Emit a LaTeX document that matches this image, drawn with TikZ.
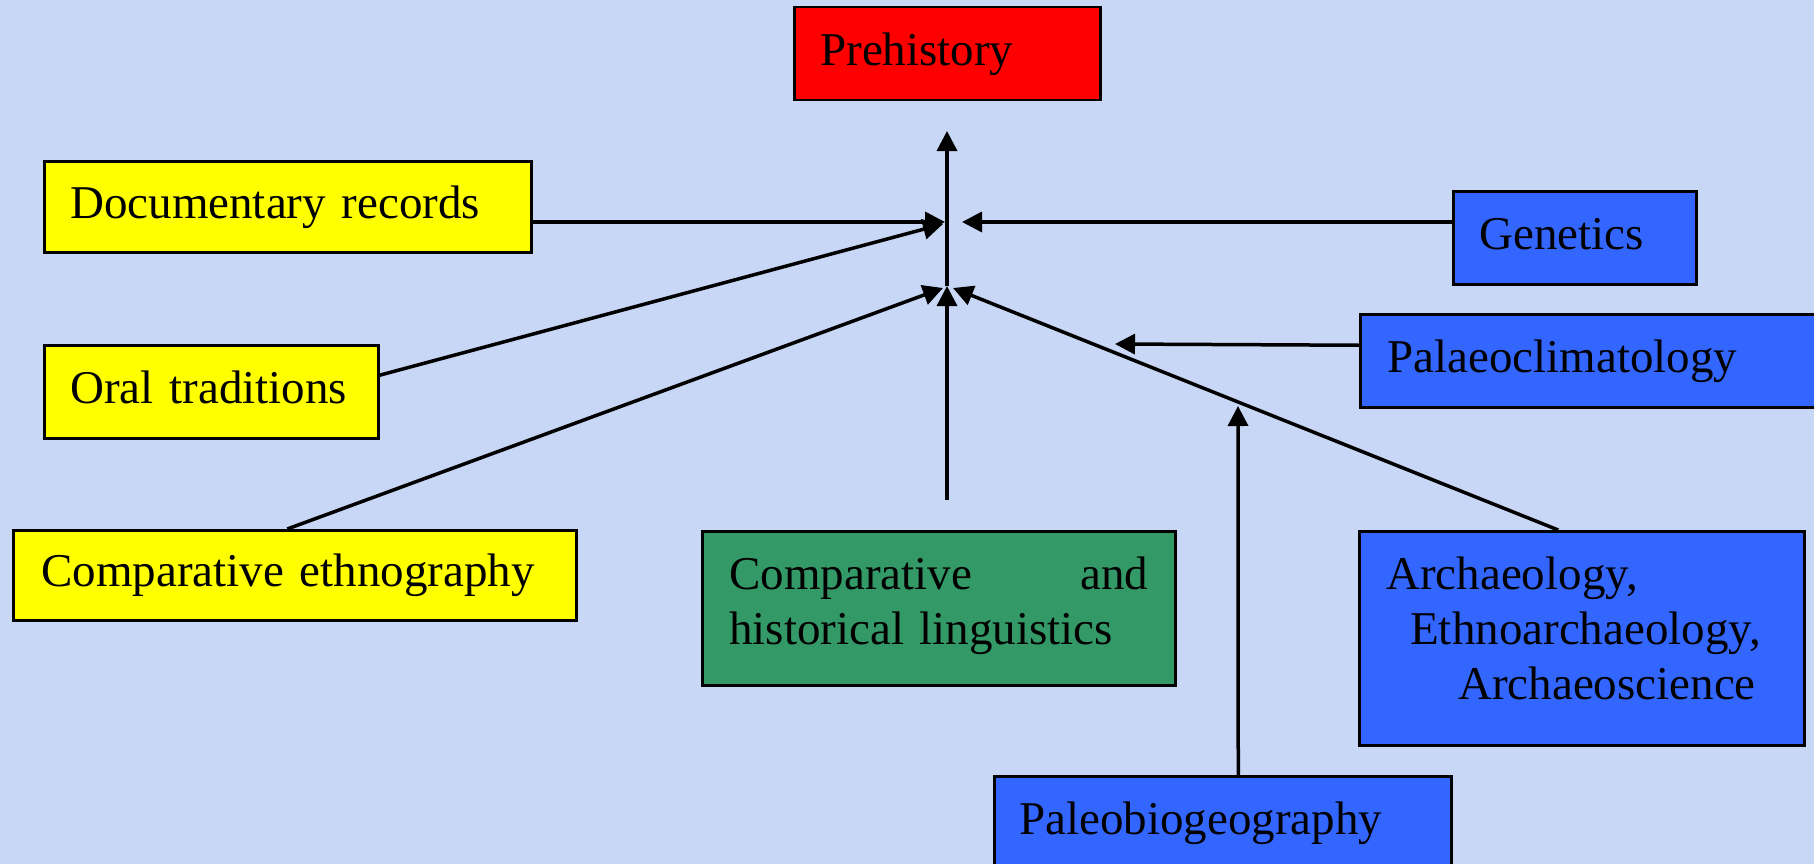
\documentclass[tikz,border=0pt]{standalone}
\usepackage{fontspec}
\setmainfont{Liberation Serif}
\usetikzlibrary{arrows.meta}
\definecolor{bgc}{RGB}{200,215,245}
\definecolor{boxred}{RGB}{255,0,0}
\definecolor{boxyellow}{RGB}{255,255,0}
\definecolor{boxgreen}{RGB}{51,153,102}
\definecolor{boxblue}{RGB}{51,102,255}
\tikzset{
  boxnode/.style={draw=black, line width=2.5pt, rectangle, anchor=north west,
    align=left, font=\fontsize{47}{55}\selectfont, text height=34pt, text depth=11pt},
  conn/.style={line width=3.5pt, draw=black},
  arr/.style={conn, -{Triangle[length=20pt,width=20pt]}}
}
\begin{document}
\begin{tikzpicture}[x=1pt,y=-1pt]
\useasboundingbox (0,0) rectangle (1814,864);
\fill[bgc] (0,0) rectangle (1814,864);

% boxes
\node[boxnode, fill=boxred, inner xsep=26pt, inner ysep=0pt, text width=254pt, minimum height=93pt] (pre) at (793,6) {Prehistory};
\node[boxnode, fill=boxyellow, inner xsep=26pt, inner ysep=0pt, text width=435pt, minimum height=91pt] (doc) at (43,160) {Documentary records};
\node[boxnode, fill=boxyellow, inner xsep=26pt, inner ysep=0pt, text width=282pt, minimum height=93pt] (oral) at (43,344) {Oral traditions};
\node[boxnode, fill=boxyellow, inner xsep=28pt, inner ysep=0pt, text width=507pt, minimum height=90pt] (ethno) at (12,529) {Comparative ethnography};
\node[boxnode, fill=boxblue, inner xsep=26pt, inner ysep=0pt, text width=191pt, minimum height=93pt] (gen) at (1452,190) {Genetics};
\node[boxnode, fill=boxblue, inner xsep=27pt, inner ysep=0pt, text width=401pt, minimum height=93pt] (palaeo) at (1359,313) {Palaeoclimatology};
\node[boxnode, fill=boxgreen, inner xsep=27pt, inner ysep=0pt, text width=419pt, minimum height=154pt, text height=34pt, text depth=72pt] (ling) at (701,530) {Comparative\hfill and\\historical linguistics};
\node[boxnode, fill=boxblue, inner xsep=27pt, inner ysep=0pt, text width=391pt, minimum height=214pt, text height=34pt, text depth=132pt] (arch) at (1358,530) {Archaeology,\\\hspace*{24pt}Ethnoarchaeology,\\\hspace*{72pt}Archaeoscience};
\node[boxnode, fill=boxblue, inner xsep=25pt, inner ysep=0pt, text width=407pt, minimum height=93pt] (paleo) at (993,775) {Paleobiogeography};

% hub coordinates
\coordinate (topTip) at (947,131);
\coordinate (hubA) at (945,222);
\coordinate (genTip) at (962,222);
\coordinate (oralTip) at (943,224);
\coordinate (hubB) at (947,286);
\coordinate (ethTip) at (943,288);
\coordinate (archTip) at (953,288);
\coordinate (lingTop) at (947,500);
\coordinate (palTip) at (1115,344);
\coordinate (pbgTip) at (1238,406);

% connectors
\draw[arr] (hubB) -- (topTip);
\draw[arr] (doc.east |- hubA) -- (hubA);
\draw[arr] (gen.west |- genTip) -- (genTip);
\draw[arr] ([yshift=16.5pt]oral.east) -- (oralTip);
\draw[arr] ([xshift=-7.5pt]ethno.north) -- (ethTip);
\draw[arr] (lingTop) -- (hubB);
\draw[arr] ([xshift=-23.5pt]arch.north) -- (archTip);
\draw[arr] ([yshift=15.5pt]palaeo.west) -- (palTip);
\draw[arr] ([xshift=15.5pt]paleo.north) -- (pbgTip);
\end{tikzpicture}
\end{document}
